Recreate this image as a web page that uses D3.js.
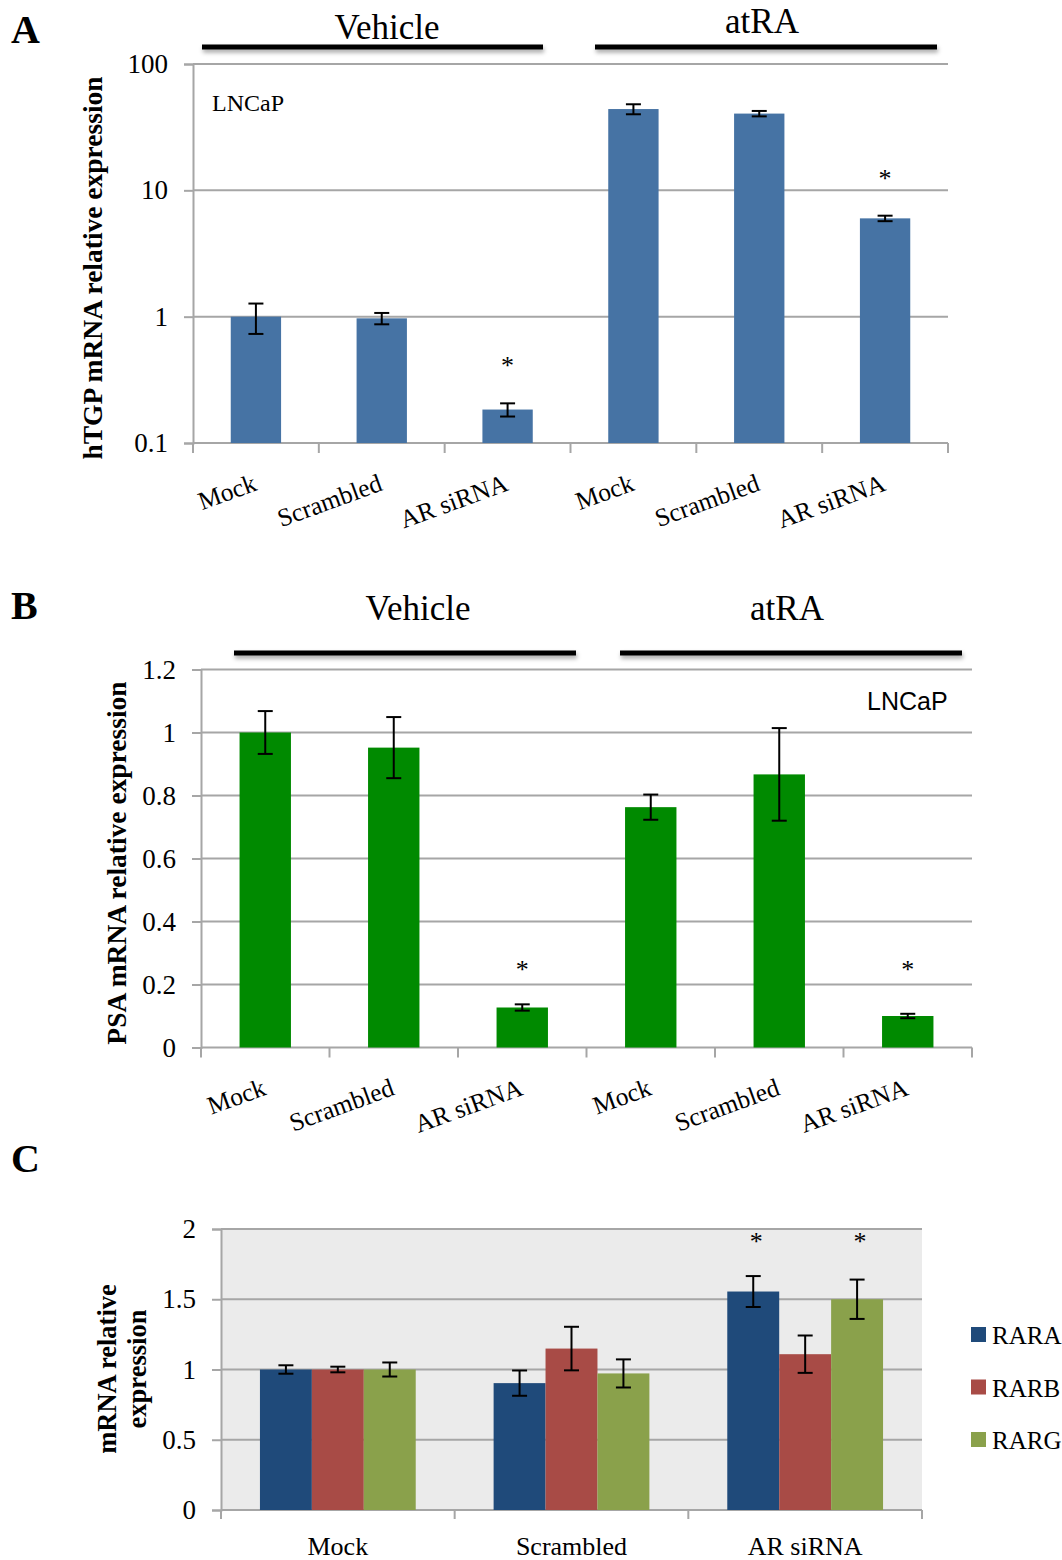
<!DOCTYPE html>
<html>
<head>
<meta charset="utf-8">
<script src="https://cdn.jsdelivr.net/npm/d3@7"></script>
<style>
  body { margin: 0; background: #fff; }
  svg text { font-family: "Liberation Serif", "Times New Roman", serif; fill: #000; }
</style>
</head>
<body>
<svg id="chart" width="1062" height="1560"></svg>
<script>
// ---- data ----
const conditions = ["Mock", "Scrambled", "AR siRNA", "Mock", "Scrambled", "AR siRNA"];
const groups = ["Vehicle", "atRA"];

// panel A, hTGP (log axis)
const hTGP = [1.0, 0.97, 0.184, 44, 40.5, 6.0];
const hTGPErr = [0.27, 0.1, 0.022, 4, 2, 0.3];
const hTGPStar = [false, false, true, false, false, true];
const ticksA = [0.1, 1, 10, 100];

// panel B, PSA
const PSA = [1.0, 0.952, 0.127, 0.763, 0.867, 0.1];
const PSAErr = [0.068, 0.097, 0.01, 0.04, 0.147, 0.007];
const PSAStar = [false, false, true, false, false, true];
const ticksB = [0, 0.2, 0.4, 0.6, 0.8, 1, 1.2];

// panel C, RAR isoforms
const treatments = ["Mock", "Scrambled", "AR siRNA"];
const receptors = ["RARA", "RARB", "RARG"];
const RARA = [1.0, 0.903, 1.555];
const RARAErr = [0.03, 0.09, 0.11];
const RARB = [1.0, 1.149, 1.109];
const RARBErr = [0.02, 0.155, 0.133];
const RARG = [1.0, 0.972, 1.5];
const RARGErr = [0.05, 0.1, 0.14];
const RARStar = [[false, false, false], [false, false, false], [true, false, true]];
const ticksC = [0, 0.5, 1, 1.5, 2];

const gridColor = "#a6a6a6";
const svg = d3.select("#chart");

const defs = svg.append("defs");
defs.append("filter").attr("id", "shadow")
  .attr("x", "-5%").attr("y", "-100%").attr("width", "110%").attr("height", "400%")
  .append("feDropShadow")
    .attr("dx", 1).attr("dy", 3).attr("stdDeviation", 2)
    .attr("flood-color", "#000").attr("flood-opacity", 0.35);

function panelLetter(txt, x, y) {
  svg.append("text").attr("x", x).attr("y", y)
    .attr("font-size", 40).attr("font-weight", "bold").text(txt);
}

function groupHeader(txt, tx, ty, x1, x2, ly) {
  svg.append("text").attr("x", tx).attr("y", ty)
    .attr("text-anchor", "middle").attr("font-size", 35).text(txt);
  svg.append("rect")
    .attr("x", x1).attr("y", ly - 2.5).attr("width", x2 - x1).attr("height", 5)
    .attr("fill", "#000")
    .attr("filter", "url(#shadow)");
}

// six-bar panel (A and B)
function sixBarPanel(opt) {
  const x = d3.scaleBand().domain(d3.range(conditions.length))
    .range([opt.left, opt.right]).padding(0);
  const y = opt.y;
  const g = svg.append("g");
  const bw = x.bandwidth() * 0.4;
  const x0 = opt.left, x1 = opt.right;

  // gridlines
  g.selectAll(".grid").data(opt.ticks.slice(1)).enter().append("line")
    .attr("x1", x0).attr("x2", x1)
    .attr("y1", d => y(d)).attr("y2", d => y(d))
    .attr("stroke", gridColor).attr("stroke-width", 2);

  // left axis
  const ax = g.append("g").attr("transform", `translate(${x0},0)`)
    .call(d3.axisLeft(y).tickValues(opt.ticks).tickFormat(d3.format("~g"))
      .tickSize(9).tickPadding(16));
  ax.select(".domain").attr("stroke", gridColor).attr("stroke-width", 2);
  ax.selectAll(".tick line").attr("stroke", gridColor).attr("stroke-width", 2);
  ax.selectAll(".tick text").attr("font-size", 27)
    .attr("font-family", "Liberation Serif").attr("fill", "#000");

  // bottom axis line and category ticks
  const base = y.range()[0];
  g.append("line").attr("x1", x0).attr("x2", x1).attr("y1", base).attr("y2", base)
    .attr("stroke", gridColor).attr("stroke-width", 2);
  const bounds = x.domain().map(i => x(i)).concat([x1]);
  g.selectAll(".xt").data(bounds).enter().append("line")
    .attr("x1", d => d).attr("x2", d => d).attr("y1", base).attr("y2", base + 10)
    .attr("stroke", gridColor).attr("stroke-width", 2);

  const rows = opt.values.map((v, i) => ({ v, i, e: opt.errors[i], star: opt.stars[i] }));
  const cx = d => x(d.i) + x.bandwidth() / 2;

  // bars
  g.selectAll(".bar").data(rows).enter().append("rect")
    .attr("x", d => cx(d) - bw / 2)
    .attr("y", d => y(d.v))
    .attr("width", bw)
    .attr("height", d => base - y(d.v))
    .attr("fill", opt.color);

  // error bars
  const eb = g.selectAll(".err").data(rows).enter().append("g");
  eb.append("line")
    .attr("x1", cx).attr("x2", cx)
    .attr("y1", d => y(d.v + d.e)).attr("y2", d => y(d.v - d.e));
  eb.append("line")
    .attr("x1", d => cx(d) - 7.5).attr("x2", d => cx(d) + 7.5)
    .attr("y1", d => y(d.v + d.e)).attr("y2", d => y(d.v + d.e));
  eb.append("line")
    .attr("x1", d => cx(d) - 7.5).attr("x2", d => cx(d) + 7.5)
    .attr("y1", d => y(d.v - d.e)).attr("y2", d => y(d.v - d.e));
  eb.selectAll("line").attr("stroke", "#000").attr("stroke-width", 2);

  // asterisks
  g.selectAll(".star").data(rows.filter(d => d.star)).enter().append("text")
    .attr("x", cx)
    .attr("y", d => opt.starY(d))
    .attr("text-anchor", "middle").attr("font-size", 26).text("*");

  // rotated category labels
  g.selectAll(".cat").data(conditions).enter().append("text")
    .attr("transform", (d, i) => `translate(${x(i) + x.bandwidth() / 2 + 2},${base + 47}) rotate(-20)`)
    .attr("text-anchor", "end").attr("font-size", 25.5).text(d => d);

  // y title
  svg.append("text")
    .attr("transform", `translate(${opt.titleX},${opt.titleY}) rotate(-90)`)
    .attr("text-anchor", "middle").attr("font-size", 27.5).attr("font-weight", "bold")
    .text(opt.title);
}

// ---- panel A ----
panelLetter("A", 11, 43);
groupHeader(groups[0], 387, 39, 202, 543, 47);
groupHeader(groups[1], 762, 33, 595, 937, 47);
const yA = d3.scaleLog().domain([0.1, 100]).range([443, 64]);
sixBarPanel({
  left: 193, right: 948, y: yA, ticks: ticksA,
  values: hTGP, errors: hTGPErr, stars: hTGPStar, color: "#4673a4",
  starY: d => yA(d.v + d.e) - 29,
  title: "hTGP mRNA relative expression", titleX: 102, titleY: 268
});
svg.append("text").attr("x", 212).attr("y", 111).attr("font-size", 24).text("LNCaP");

// ---- panel B ----
panelLetter("B", 11, 619);
groupHeader(groups[0], 418, 620, 234, 576, 653);
groupHeader(groups[1], 787, 620, 620, 962, 653);
const yB = d3.scaleLinear().domain([0, 1.2]).range([1047.5, 669.5]);
sixBarPanel({
  left: 201, right: 972, y: yB, ticks: ticksB,
  values: PSA, errors: PSAErr, stars: PSAStar, color: "#008a00",
  starY: () => yB(0.22),
  title: "PSA mRNA relative expression", titleX: 126, titleY: 863
});
svg.append("text").attr("x", 867).attr("y", 710).attr("font-size", 25)
  .style("font-family", "'Liberation Sans', Arial, sans-serif")
  .text("LNCaP");

// ---- panel C ----
panelLetter("C", 11, 1172);
(function () {
  const left = 221, right = 922;
  const y = d3.scaleLinear().domain([0, 2]).range([1510, 1229]);
  const x = d3.scaleBand().domain(treatments).range([left, right]).padding(0);
  const bw = x.bandwidth();
  const xs = d3.scaleBand().domain(receptors).range([bw / 6, bw * 5 / 6]).padding(0);
  const color = d3.scaleOrdinal().domain(receptors).range(["#1f4a7a", "#a84b46", "#8aa14b"]);
  const vals = [RARA, RARB, RARG];
  const errs = [RARAErr, RARBErr, RARGErr];
  const rows = [];
  treatments.forEach((t, ti) => receptors.forEach((r, ri) => {
    rows.push({ t, r, v: vals[ri][ti], e: errs[ri][ti], star: RARStar[ti][ri] });
  }));
  const g = svg.append("g");
  const base = y(0);

  g.append("rect").attr("x", left).attr("y", y(2)).attr("width", right - left)
    .attr("height", base - y(2)).attr("fill", "#ebebeb");

  g.selectAll(".grid").data(ticksC.slice(1)).enter().append("line")
    .attr("x1", left).attr("x2", right)
    .attr("y1", d => y(d)).attr("y2", d => y(d))
    .attr("stroke", gridColor).attr("stroke-width", 2);

  const ax = g.append("g").attr("transform", `translate(${left},0)`)
    .call(d3.axisLeft(y).tickValues(ticksC).tickFormat(d3.format("~g"))
      .tickSize(9).tickPadding(16));
  ax.select(".domain").attr("stroke", gridColor).attr("stroke-width", 2);
  ax.selectAll(".tick line").attr("stroke", gridColor).attr("stroke-width", 2);
  ax.selectAll(".tick text").attr("font-size", 27)
    .attr("font-family", "Liberation Serif").attr("fill", "#000");

  g.append("line").attr("x1", left).attr("x2", right).attr("y1", base).attr("y2", base)
    .attr("stroke", gridColor).attr("stroke-width", 2);
  const bounds = treatments.map(t => x(t)).concat([right]);
  g.selectAll(".xt").data(bounds).enter().append("line")
    .attr("x1", d => d).attr("x2", d => d).attr("y1", base).attr("y2", base + 9)
    .attr("stroke", gridColor).attr("stroke-width", 2);

  const cx = d => x(d.t) + xs(d.r) + xs.bandwidth() / 2;
  g.selectAll(".bar").data(rows).enter().append("rect")
    .attr("x", d => x(d.t) + xs(d.r))
    .attr("y", d => y(d.v))
    .attr("width", xs.bandwidth())
    .attr("height", d => base - y(d.v))
    .attr("fill", d => color(d.r));

  const eb = g.selectAll(".err").data(rows).enter().append("g");
  eb.append("line").attr("x1", cx).attr("x2", cx)
    .attr("y1", d => y(d.v + d.e)).attr("y2", d => y(d.v - d.e));
  eb.append("line").attr("x1", d => cx(d) - 7.5).attr("x2", d => cx(d) + 7.5)
    .attr("y1", d => y(d.v + d.e)).attr("y2", d => y(d.v + d.e));
  eb.append("line").attr("x1", d => cx(d) - 7.5).attr("x2", d => cx(d) + 7.5)
    .attr("y1", d => y(d.v - d.e)).attr("y2", d => y(d.v - d.e));
  eb.selectAll("line").attr("stroke", "#000").attr("stroke-width", 2);

  g.selectAll(".star").data(rows.filter(d => d.star)).enter().append("text")
    .attr("x", d => cx(d) + 3).attr("y", y(1.85))
    .attr("text-anchor", "middle").attr("font-size", 26).text("*");

  g.selectAll(".cat").data(treatments).enter().append("text")
    .attr("x", d => x(d) + bw / 2).attr("y", 1555)
    .attr("text-anchor", "middle").attr("font-size", 26).text(d => d);

  // legend
  const lg = g.selectAll(".leg").data(receptors).enter().append("g")
    .attr("transform", (d, i) => `translate(971,${1327 + i * 52.5})`);
  lg.append("rect").attr("width", 15).attr("height", 15).attr("fill", d => color(d));
  lg.append("text").attr("x", 21).attr("y", 17).attr("font-size", 25).text(d => d);

  // y title, two lines
  const yt = svg.append("text")
    .attr("transform", `translate(0,1369) rotate(-90)`)
    .attr("text-anchor", "middle").attr("font-size", 26.5).attr("font-weight", "bold");
  yt.append("tspan").attr("x", 0).attr("y", 116).text("mRNA relative");
  yt.append("tspan").attr("x", 0).attr("y", 146).text("expression");
})();
</script>
</body>
</html>
